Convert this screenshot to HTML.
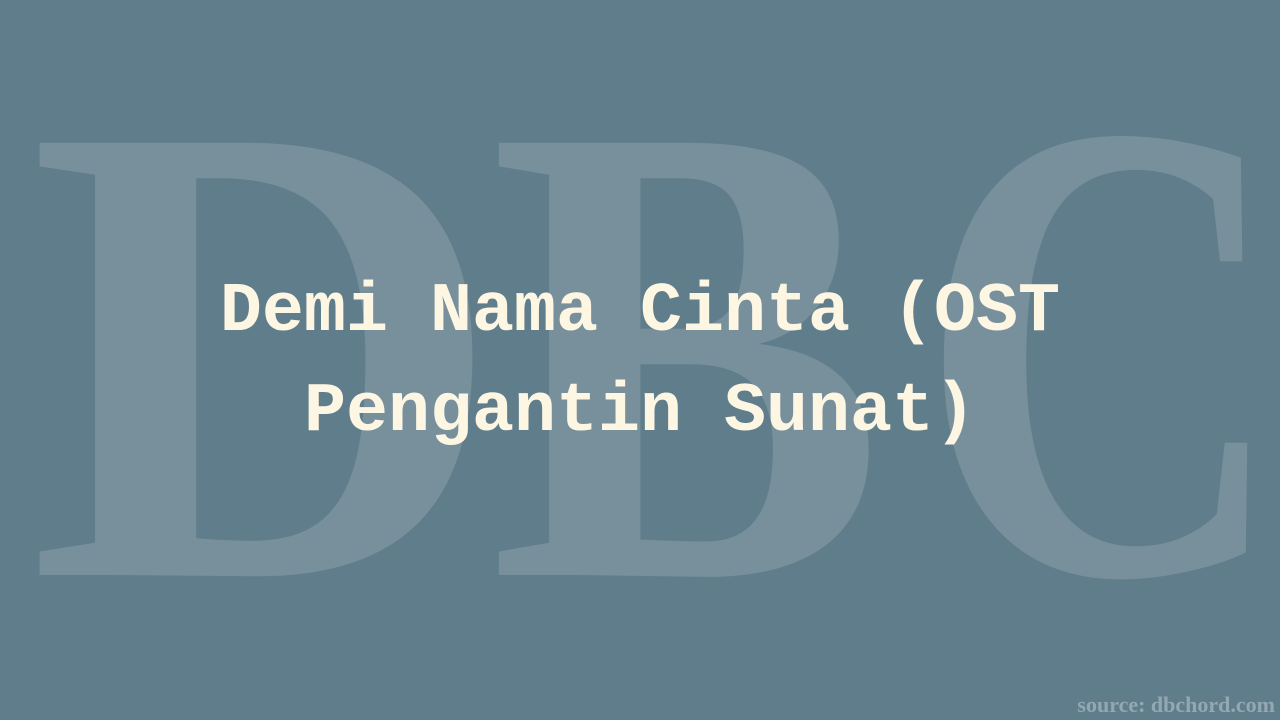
<!DOCTYPE html>
<html><head><style>
html,body{margin:0;padding:0;width:1280px;height:720px;overflow:hidden}
body{background:#607d8b;position:relative}
.L{position:absolute;top:0;font-family:"Liberation Serif",serif;font-weight:bold;font-size:660px;line-height:1;color:#78909c;transform-origin:0 0}
.t{position:absolute;left:0;width:1280px;text-align:center;font-family:"Liberation Mono",monospace;font-weight:bold;font-size:70px;color:#fdf6e3;white-space:pre}
.s{position:absolute;right:5px;bottom:2px;font-family:"Liberation Serif",serif;font-weight:bold;font-size:22px;color:#93a8b3}
</style></head><body>
<div class="L" style="left:28px;top:23px;transform:scaleX(1.0)">D</div>
<div class="L" style="left:489px;top:23px;transform:scaleX(0.9)">B</div>
<div class="L" style="left:919px;top:21px;transform:scale(0.77,1.0)">C</div>
<div class="t" style="top:273px">Demi Nama Cinta (OST</div>
<div class="t" style="top:373px">Pengantin Sunat)</div>
<div class="s">source: dbchord.com</div>
</body></html>
